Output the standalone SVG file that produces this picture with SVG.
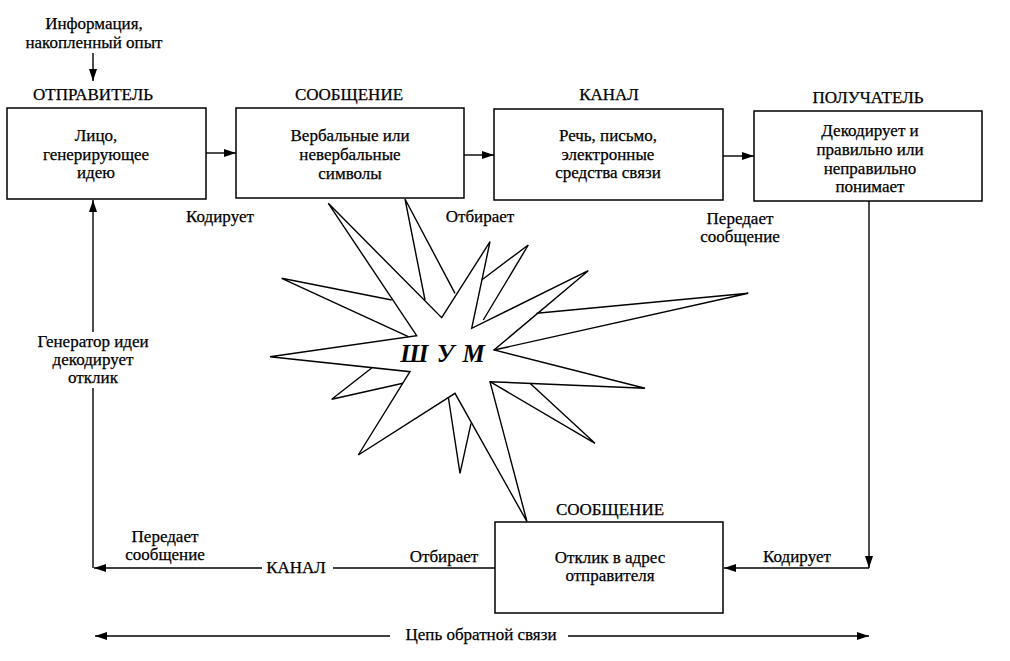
<svg xmlns="http://www.w3.org/2000/svg" width="1010" height="661" viewBox="0 0 1010 661">
<defs>
<marker id="arr" markerUnits="userSpaceOnUse" markerWidth="13" markerHeight="9" refX="12" refY="4" orient="auto">
<path d="M0,0 L12,4 L0,8 Z" fill="#000"/>
</marker>
<style>
.t{font-family:"Liberation Serif","DejaVu Serif",serif;font-size:17px;fill:#000;stroke:#000;stroke-width:0.25;text-anchor:middle}
.box{fill:#fff;stroke:#000;stroke-width:1.5}
.ln{fill:none;stroke:#000;stroke-width:1.4}
.ar{fill:none;stroke:#000;stroke-width:1.4;marker-end:url(#arr)}
.st{fill:#fff;stroke:#000;stroke-width:1.4;stroke-linejoin:miter}
.sp{fill:none;stroke:#000;stroke-width:1.4;stroke-linejoin:miter}
.shum{font-family:"Liberation Serif","DejaVu Serif",serif;font-size:25px;font-weight:bold;font-style:italic;text-anchor:middle;letter-spacing:1px}
</style>
</defs>
<rect width="1010" height="661" fill="#fff"/>

<g id="noise">
<polygon class="st" points="270,356.7 416.7,335.7 328.3,203.3 441.7,317.7 490,241.7 471.7,328.3 588.3,270.7 494,350 645,388.3 490,381.7 527,521.7 455,393.3 358.3,455 410,371.7"/>
<polyline class="sp" points="391.7,300 281.7,278.3 408.3,336.7"/>
<polyline class="sp" points="425,300 405,199 455,293.3"/>
<polyline class="sp" points="481.7,280 528.3,245 483.3,320"/>
<polyline class="sp" points="536.7,313.3 748.3,293.3 494,350"/>
<polyline class="sp" points="490,381.7 595,443.3 530,383.3"/>
<polyline class="sp" points="448.3,397 460,473.3 471,423.3"/>
<polyline class="sp" points="371.7,368 331.7,399.3 403,383.3"/>
<text class="shum" x="443" y="362">Ш У М</text>
</g>

<g id="connectors">
<line class="ar" x1="93" y1="53" x2="93" y2="81"/>
<line class="ar" x1="206" y1="153" x2="236" y2="153"/>
<line class="ar" x1="464" y1="155" x2="494" y2="155"/>
<line class="ar" x1="723" y1="156" x2="754" y2="156"/>
<path class="ar" d="M869,201 V568"/>
<path class="ar" d="M869,568 H724"/>
<path class="ln" d="M495,568 H333"/>
<path class="ar" d="M262,568 H94"/>
<path class="ln" d="M93,568 V388"/>
<path class="ar" d="M93,332 V200"/>
<path class="ar" d="M390,636 H95"/>
<path class="ar" d="M568,636 H869"/>
</g>

<g id="info">
<text class="t" x="94" y="29">Информация,</text>
<text class="t" x="94" y="48">накопленный опыт</text>
</g>

<g id="sender">
<text class="t" x="93" y="100">ОТПРАВИТЕЛЬ</text>
<rect class="box" x="7" y="108" width="199" height="91"/>
<text class="t" x="96" y="141">Лицо,</text>
<text class="t" x="96" y="160">генерирующее</text>
<text class="t" x="96" y="178">идею</text>
</g>

<g id="message">
<text class="t" x="349" y="100">СООБЩЕНИЕ</text>
<rect class="box" x="236" y="108" width="228" height="90"/>
<text class="t" x="350" y="141">Вербальные или</text>
<text class="t" x="350" y="160">невербальные</text>
<text class="t" x="350" y="179">символы</text>
</g>

<g id="channel">
<text class="t" x="609" y="100">КАНАЛ</text>
<rect class="box" x="494" y="109" width="229" height="91"/>
<text class="t" x="608" y="141">Речь, письмо,</text>
<text class="t" x="608" y="160">электронные</text>
<text class="t" x="608" y="178">средства связи</text>
</g>

<g id="receiver">
<text class="t" x="868" y="103">ПОЛУЧАТЕЛЬ</text>
<rect class="box" x="754" y="111" width="228" height="90"/>
<text class="t" x="870" y="136">Декодирует и</text>
<text class="t" x="870" y="155">правильно или</text>
<text class="t" x="870" y="174">неправильно</text>
<text class="t" x="870" y="192">понимает</text>
</g>

<g id="response">
<text class="t" x="610" y="515">СООБЩЕНИЕ</text>
<rect class="box" x="495" y="522" width="228" height="91"/>
<text class="t" x="610" y="563">Отклик в адрес</text>
<text class="t" x="610" y="581">отправителя</text>
</g>

<g id="labels">
<text class="t" x="220" y="222">Кодирует</text>
<text class="t" x="480" y="222">Отбирает</text>
<text class="t" x="740" y="224">Передает</text>
<text class="t" x="740" y="242">сообщение</text>
<text class="t" x="797" y="562">Кодирует</text>
<text class="t" x="444" y="562">Отбирает</text>
<text class="t" x="296" y="573">КАНАЛ</text>
<text class="t" x="165" y="542">Передает</text>
<text class="t" x="165" y="560">сообщение</text>
<text class="t" x="93" y="347">Генератор идеи</text>
<text class="t" x="93" y="365">декодирует</text>
<text class="t" x="93" y="383">отклик</text>
<text class="t" x="481" y="640">Цепь обратной связи</text>
</g>
</svg>
